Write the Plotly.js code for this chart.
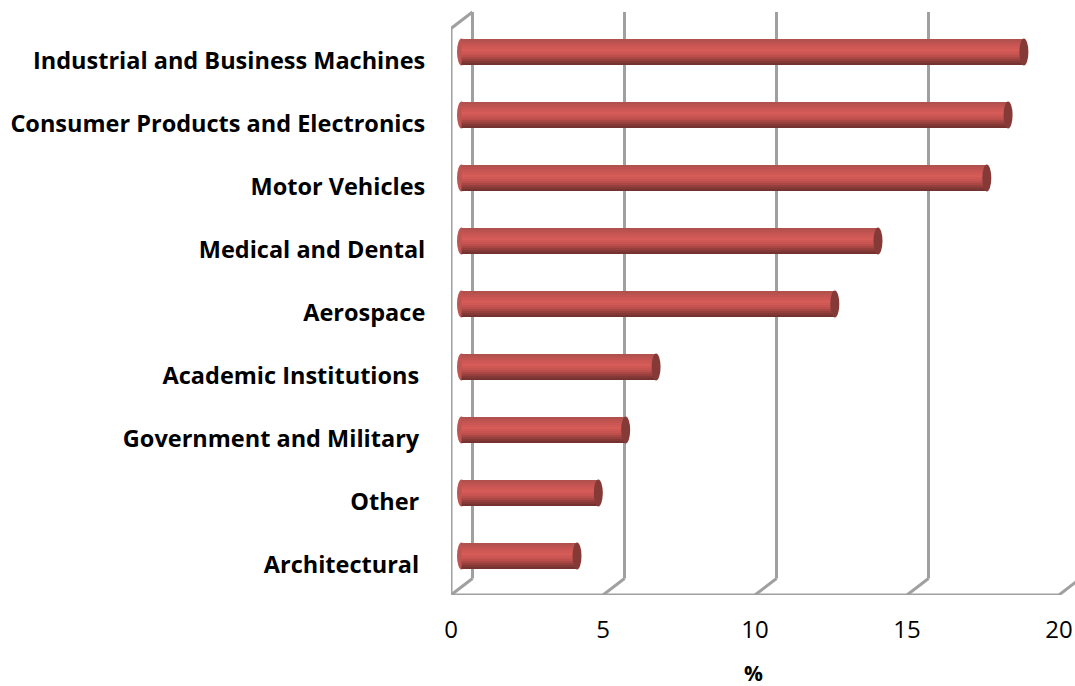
<!DOCTYPE html>
<html>
<head>
<meta charset="utf-8">
<script src="https://cdn.plot.ly/plotly-3.0.1.min.js"></script>
<style>html,body{margin:0;padding:0;background:#fff}#chart{width:1075px;height:686px}</style>
</head>
<body>
<div id="chart"></div>
<script>
// Listed bottom to top, the order a horizontal category axis plots them.
var categories = ['Architectural\u00a0', 'Other\u00a0', 'Government and Military\u00a0', 'Academic Institutions\u00a0',
  'Aerospace', 'Medical and Dental', 'Motor Vehicles', 'Consumer Products and Electronics', 'Industrial and Business Machines'];
var shares = [3.8, 4.5, 5.4, 6.4, 12.28, 13.7, 17.28, 17.98, 18.5];
var xTicks = [0, 5, 10, 15, 20];

var W = 1075, H = 686;
var left = 451, right = 1075, top_ = 8, floorY = 595;
var unit = 30.4;                // pixels per percentage point
var rowPx = 63;                 // pixels per category
var depthX = 21.5, depthY = 16.5; // offset of the back wall of the 3-D box
var barPx = 26;
var wallColor = '#a0a0a0';
var xMax = (right - left) / unit;
var yMin = -(floorY - 556) / rowPx, yMax = (556 - top_) / rowPx;
var barShift = 10.5 / unit;     // cylinders sit halfway into the box

function px(pxY) { return pxY / rowPx; }
function seg(x0, y0, x1, y1) {
  // x in axis units, y in pixels up from the floor
  return {type: 'line', layer: 'below', xref: 'x', yref: 'y',
    x0: x0, x1: x1, y0: yMin + px(y0), y1: yMin + px(y1),
    line: {color: wallColor, width: 3}};
}

var shapes = [];
var wallHeight = floorY - 12 - depthY;
// floor front edge and the left side panel
shapes.push(seg(0, 0, 20, 0));
shapes.push(seg(0, 0, 0, wallHeight));
shapes.push(seg(0, wallHeight, depthX / unit, wallHeight + depthY));
// gridlines: a diagonal across the floor, then up the back wall
xTicks.forEach(function (t) {
  var bx = t + depthX / unit;
  shapes.push(seg(t, 0, bx, depthY));
  if (t < 20) shapes.push(seg(bx, depthY, bx, wallHeight + depthY));
});

// Rounded near end of each cylinder, then the darker far-end cap
var capX = 4.5 / unit, capY = px(barPx / 2 + 0.5);
shares.forEach(function (v, i) {
  shapes.push({type: 'circle', layer: 'below', xref: 'x2', yref: 'y',
    x0: -capX, x1: capX, y0: i - capY, y1: i + capY,
    fillcolor: '#bd5552', line: {width: 0}});
  shapes.push({type: 'circle', layer: 'above', xref: 'x2', yref: 'y',
    x0: v - capX, x1: v + capX, y0: i - capY, y1: i + capY,
    fillcolor: '#853a38', line: {width: 0}});
});

// Shading stops across the cylinder, top edge to bottom edge
var stops = [[0, [172, 80, 77]], [0.2, [196, 84, 81]], [0.42, [214, 92, 88]],
  [0.62, [196, 82, 79]], [0.85, [140, 60, 58]], [1, [108, 46, 44]]];
function shade(t) {
  for (var i = 1; i < stops.length; i++) {
    if (t <= stops[i][0]) {
      var a = stops[i - 1], b = stops[i], f = (t - a[0]) / (b[0] - a[0]);
      var c = a[1].map(function (p, k) { return Math.round(p + (b[1][k] - p) * f); });
      return 'rgb(' + c.join(',') + ')';
    }
  }
}

// Each cylinder is a stack of thin bars, one per band of shading
var bands = 13, bandH = px(barPx / bands);
var traces = [];
for (var b = 0; b < bands; b++) {
  traces.push({
    type: 'bar', orientation: 'h', x: shares, y: categories, xaxis: 'x2', yaxis: 'y',
    width: bandH, offset: px(barPx / 2) - (b + 1) * bandH,
    marker: {color: shade((b + 0.5) / bands), line: {width: 0}},
    hoverinfo: 'skip', showlegend: false
  });
}

var family = '"Open Sans", Lato, sans-serif';
var layout = {
  width: W, height: H,
  margin: {l: left, r: W - right, t: top_, b: H - floorY},
  paper_bgcolor: '#fff', plot_bgcolor: '#fff',
  barmode: 'overlay', showlegend: false,
  xaxis: {
    range: [0, xMax], tickvals: xTicks, ticktext: xTicks.map(String),
    showgrid: false, zeroline: false, showline: false, ticks: 'outside', ticklen: 13,
    tickcolor: 'rgba(0,0,0,0)', tickfont: {family: family, size: 24, color: '#000'}
  },
  xaxis2: {range: [-barShift, xMax - barShift], overlaying: 'x', visible: false},
  yaxis: {
    type: 'category', categoryorder: 'array', categoryarray: categories,
    range: [yMin, yMax], showgrid: false, zeroline: false, showline: false,
    ticks: 'outside', ticklen: 20, tickcolor: 'rgba(0,0,0,0)', ticklabelshift: 9,
    tickfont: {family: family, size: 23.5, color: '#000', weight: 700}
  },
  shapes: shapes,
  annotations: [{
    text: '<b>%</b>', xref: 'x', yref: 'paper', x: (753 - left) / unit, y: 0,
    yshift: -(673 - floorY), yanchor: 'middle', showarrow: false,
    font: {family: family, size: 21, color: '#000'}
  }]
};

Plotly.newPlot('chart', traces, layout, {displayModeBar: false, staticPlot: true});
</script>
</body>
</html>
